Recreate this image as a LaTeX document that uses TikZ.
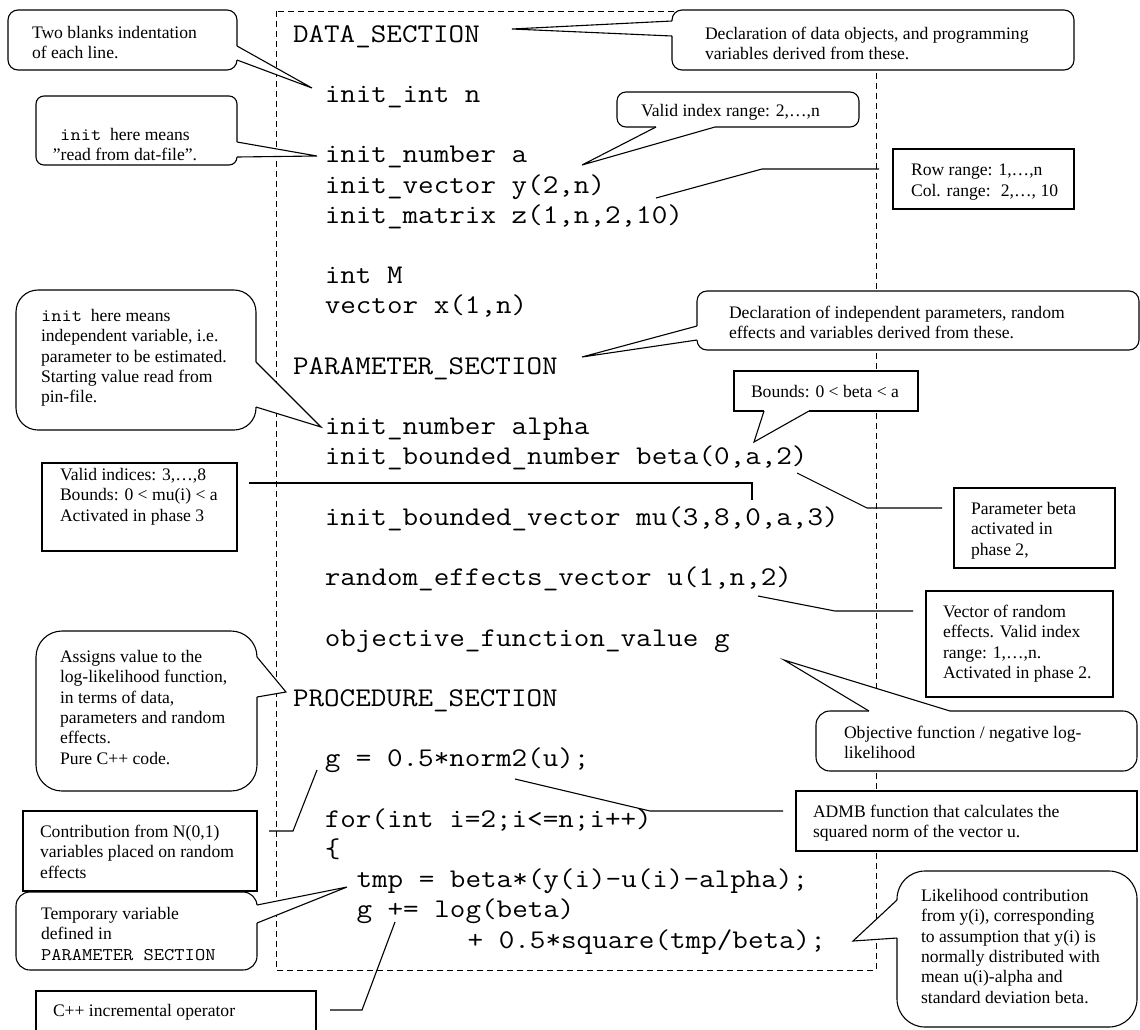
\documentclass[tikz,border=0pt]{standalone}
\usepackage{fontspec}
\setmainfont{Liberation Serif}
\usepackage{graphicx}
\newcommand\txtfont{\fontsize{17.6}{20.4}\selectfont}
\newcommand\cd[1]{\scalebox{1.12}[1]{\fontsize{27}{30}\selectfont\ttfamily #1}}
\newcommand\ctt[1]{\scalebox{1.12}[1]{\fontsize{17.8}{20.4}\selectfont\ttfamily #1}}
\tikzset{
  ln/.style={line width=1.1pt, black},
  bx/.style={draw, line width=1.1pt, fill=white, inner sep=0pt, outer sep=0pt, anchor=north west},
  rbx/.style={bx, rounded corners=#1},
  tx/.style={inner sep=0pt, outer sep=0pt, anchor=north west, font=\txtfont, align=left},
  code/.style={inner sep=0pt, outer sep=0pt, anchor=base west},
  frame/.style={line width=1pt, dash pattern=on 6pt off 4pt},
}
\newcommand\calltail[3]{%
  \fill[white] (#1) -- (#2) -- (#3) -- cycle;
  \draw[white, line width=2.6pt] (#1) -- (#3);
  \draw[ln, line join=miter] (#1) -- (#2) -- (#3);
}
\begin{document}
\begin{tikzpicture}[x=1pt, y=-1pt]
\useasboundingbox (0,0) rectangle (1140,1029);
\fill[white] (0,0) rectangle (1140,1029);

% dashed frame
\draw[frame] (276,11) rectangle (876,970);

% code lines
\node[code] (c0)  at (293,42)      {\cd{DATA\_SECTION}};
\node[code] (c2)  at (324.76,102.4) {\cd{init\_int n}};
\node[code] (c4)  at (324.76,162.8) {\cd{init\_number a}};
\node[code] (c5)  at (324.76,193)   {\cd{init\_vector y(2,n)}};
\node[code] (c6)  at (324.76,223.2) {\cd{init\_matrix z(1,n,2,10)}};
\node[code] (c8)  at (324.76,283.6) {\cd{int M}};
\node[code] (c9)  at (324.76,313.8) {\cd{vector x(1,n)}};
\node[code] (c11) at (293,374.2)    {\cd{PARAMETER\_SECTION}};
\node[code] (c13) at (324.76,434.6) {\cd{init\_number alpha}};
\node[code] (c14) at (324.76,464.8) {\cd{init\_bounded\_number beta(0,a,2)}};
\node[code] (c16) at (324.76,525.2) {\cd{init\_bounded\_vector mu(3,8,0,a,3)}};
\node[code] (c18) at (324.76,585.6) {\cd{random\_effects\_vector u(1,n,2)}};
\node[code] (c20) at (324.76,646)   {\cd{objective\_function\_value g}};
\node[code] (c22) at (293,706.4)    {\cd{PROCEDURE\_SECTION}};
\node[code] (c24) at (324.76,766.8) {\cd{g = 0.5*norm2(u);}};
\node[code] (c26) at (324.76,827.2) {\cd{for(int i=2;i<=n;i++)}};
\node[code] (c27) at (324.76,857.4) {\cd{\{}};
\node[code] (c28) at (356.52,887.6) {\cd{tmp = beta*(y(i)-u(i)-alpha);}};
\node[code] (c29) at (356.52,917.8) {\cd{g += log(beta)}};
\node[code] (c30) at (467.68,948)   {\cd{+ 0.5*square(tmp/beta);}};

% ---------- boxes ----------
\node[rbx=10pt, minimum width=229pt, minimum height=60pt] (A) at (8,10) {};
\node[rbx=8pt,  minimum width=201pt, minimum height=69pt] (B) at (36,96) {};
\node[rbx=10pt, minimum width=402pt, minimum height=60pt] (C) at (672,10) {};
\node[rbx=9pt,  minimum width=242pt, minimum height=35pt] (D) at (617,92) {};
\node[bx,       minimum width=181pt, minimum height=60pt] (L) at (893,149) {};
\node[rbx=22pt, minimum width=240pt, minimum height=140pt] (E) at (16,290) {};
\node[rbx=10pt, minimum width=442pt, minimum height=59pt] (G) at (697,291) {};
\node[bx,       minimum width=184pt, minimum height=40pt] (F) at (734,371) {};
\node[bx,       minimum width=195pt, minimum height=88pt] (M) at (42,463) {};
\node[bx,       minimum width=161pt, minimum height=80pt] (N) at (954,488) {};
\node[bx,       minimum width=187pt, minimum height=106pt] (O) at (926,591) {};
\node[rbx=26pt, minimum width=221pt, minimum height=160pt] (H) at (36,631) {};
\node[rbx=14pt, minimum width=321pt, minimum height=60pt] (J) at (816,711) {};
\node[bx,       minimum width=341pt, minimum height=60pt] (P) at (796,791) {};
\node[bx,       minimum width=234pt, minimum height=80pt] (Q) at (23,811) {};
\node[rbx=14pt, minimum width=241pt, minimum height=78pt] (I) at (16,892) {};
\node[rbx=28pt, minimum width=240pt, minimum height=156pt] (K) at (897,871) {};
\node[bx,       minimum width=280pt, minimum height=60pt] (R) at (36,991) {};

% ---------- callout tails ----------
\coordinate (A1) at (237,46);  \coordinate (At) at (312,88);  \coordinate (A2) at (237,60);
\coordinate (B1) at (237,142); \coordinate (Bt) at (317,156); \coordinate (B2) at (237,157);
\coordinate (C1) at (672,21);  \coordinate (Ct) at (512,29);  \coordinate (C2) at (672,36);
\coordinate (D1) at (656,127); \coordinate (Dt) at (582,165); \coordinate (D2) at (715,127);
\coordinate (E1) at (256,362); \coordinate (Et) at (321,427); \coordinate (E2) at (256,407);
\coordinate (G1) at (697,326); \coordinate (Gt) at (582,357); \coordinate (G2) at (697,340);
\coordinate (F1) at (764,411); \coordinate (Ft) at (754,442); \coordinate (F2) at (809,411);
\coordinate (H1) at (257,657); \coordinate (Ht) at (286,692); \coordinate (H2) at (257,697);
\coordinate (I1) at (257,905); \coordinate (It) at (347,887); \coordinate (I2) at (257,923);
\coordinate (J1) at (869,711); \coordinate (Jt) at (784,660); \coordinate (J2) at (950,711);
\coordinate (K1) at (897,900); \coordinate (Kt) at (853,941); \coordinate (K2) at (897,938);
\calltail{A1}{At}{A2}
\calltail{B1}{Bt}{B2}
\calltail{C1}{Ct}{C2}
\calltail{D1}{Dt}{D2}
\calltail{E1}{Et}{E2}
\calltail{G1}{Gt}{G2}
\calltail{F1}{Ft}{F2}
\calltail{H1}{Ht}{H2}
\calltail{I1}{It}{I2}
\calltail{J1}{Jt}{J2}
\calltail{K1}{Kt}{K2}

% ---------- leader lines ----------
\coordinate (La) at (656,198); \coordinate (Lb) at (762,169); \coordinate (Lc) at (879,169);
\coordinate (Ma) at (249,483); \coordinate (Mb) at (752,483); \coordinate (Mc) at (752,500);
\coordinate (Na) at (797,473); \coordinate (Nb) at (867,508); \coordinate (Nc) at (942,508);
\coordinate (Oa) at (758,596); \coordinate (Ob) at (835,611); \coordinate (Oc) at (913,611);
\coordinate (Pa) at (515,779); \coordinate (Pb) at (650,811); \coordinate (Pc) at (783,811);
\coordinate (Qa) at (317,770); \coordinate (Qb) at (293,831); \coordinate (Qc) at (269,831);
\coordinate (Ra) at (395,922); \coordinate (Rb) at (362,1010); \coordinate (Rc) at (330,1010);
\draw[ln] (La) -- (Lb) -- (Lc);
\draw[ln] (Ma) -- (Mb) -- (Mc);
\draw[ln] (Na) -- (Nb) -- (Nc);
\draw[ln] (Oa) -- (Ob) -- (Oc);
\draw[ln] (Pa) -- (Pb) -- (Pc);
\draw[ln] (Qa) -- (Qb) -- (Qc);
\draw[ln] (Ra) -- (Rb) -- (Rc);

% ---------- texts ----------
\node[tx] (tA) at (32,26) {Two blanks indentation\\of each line.};
\node[tx, anchor=north, align=center] (tB) at (125,128) {\ctt{init}~ here means\\”read from dat-file”.};
\node[tx] (tC) at (705,27) {Declaration of data objects, and programming\\variables derived from these.};
\node[tx] (tD) at (641,104) {Valid index range: 2,…,n};
\node[tx] (tL) at (911,164) {Row range: 1,…,n\\Col. range:~ 2,…, 10};
\node[tx] (tE) at (41,309) {\ctt{init}~ here means\\independent variable, i.e.\\parameter to be estimated.\\Starting value read from\\pin-file.};
\node[tx] (tG) at (729,306) {Declaration of independent parameters, random\\effects and variables derived from these.};
\node[tx] (tF) at (751,385) {Bounds: 0 < beta < a};
\node[tx] (tM) at (60,468) {Valid indices: 3,…,8\\Bounds: 0 < mu(i) < a\\Activated in phase 3};
\node[tx] (tN) at (971,502) {Parameter beta\\activated in\\phase 2,};
\node[tx] (tO) at (943,605) {Vector of random\\effects. Valid index\\range: 1,…,n.\\Activated in phase 2.};
\node[tx] (tH) at (60,650) {Assigns value to the\\log-likelihood function,\\in terms of data,\\parameters and random\\effects.\\Pure C++ code.};
\node[tx] (tJ) at (844,726) {Objective function / negative log-\\likelihood};
\node[tx] (tP) at (813,805) {ADMB function that calculates the\\squared norm of the vector u.};
\node[tx] (tQ) at (40,825) {Contribution from N(0,1)\\variables placed on random\\effects};
\node[tx] (tI) at (41,907) {Temporary variable\\defined in\\\ctt{PARAMETER SECTION}};
\node[tx] (tK) at (921,889) {Likelihood contribution\\from y(i), corresponding\\to assumption that y(i) is\\normally distributed with\\mean u(i)-alpha and\\standard deviation beta.};
\node[tx] (tR) at (53,1004) {C++ incremental operator};
\end{tikzpicture}
\end{document}
